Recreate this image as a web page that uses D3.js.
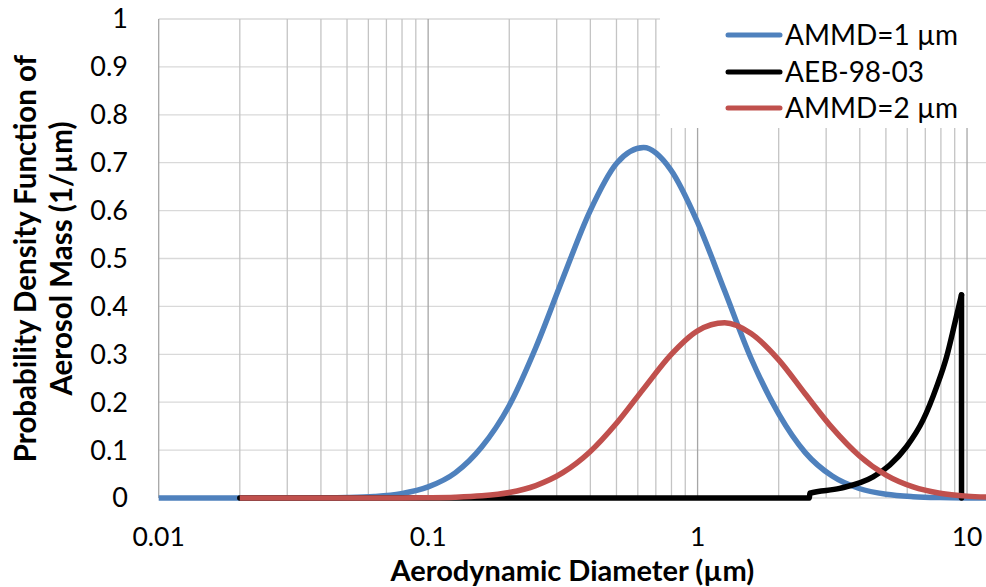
<!DOCTYPE html>
<html>
<head>
<meta charset="utf-8">
<script src="https://cdn.jsdelivr.net/npm/d3@7"></script>
<style>
  html, body { margin: 0; padding: 0; background: #fff; }
  svg { display: block; }
  text { font-family: Lato, "Open Sans", sans-serif; fill: #000; }
</style>
</head>
<body>
<svg id="chart" width="986" height="587"></svg>
<script>
// ---------- DATA ----------
const diameters = [0.01, 0.0126, 0.0158, 0.02, 0.0251, 0.0316, 0.0398, 0.0501, 0.0631, 0.0794,
  0.1, 0.126, 0.158, 0.2, 0.251, 0.316, 0.398, 0.501, 0.631, 0.794,
  1, 1.26, 1.58, 2, 2.51, 3.16, 3.98, 5.01, 6.31, 7.94, 10, 11.76];
const ammd1Values = [0, 0, 0, 0, 0, 0.0001, 0.0003, 0.001, 0.0032, 0.0091,
  0.0231, 0.0524, 0.1063, 0.1931, 0.3143, 0.4582, 0.598, 0.6989, 0.7315, 0.6857,
  0.5756, 0.4326, 0.2912, 0.1756, 0.0948, 0.0458, 0.0198, 0.0077, 0.0027, 0.0008, 0.0002, 0.0001];
const ammd2Values = [null, null, null, 0, 0, 0, 0, 0, 0, 0.0001,
  0.0005, 0.0016, 0.0045, 0.0115, 0.026, 0.0528, 0.096, 0.1565, 0.2284, 0.2984,
  0.3491, 0.3658, 0.3433, 0.2885, 0.2171, 0.1463, 0.0883, 0.0477, 0.0231, 0.01, 0.0039, 0.0019];
const aebDiameters = [0.02, 2.6, 2.61, 3.37, 4.48, 5.17, 5.96, 6.87, 7.71, 8.40, 9.01, 9.54];
const aebValues    = [0,    0,   0.01, 0.02, 0.044, 0.069, 0.107, 0.163, 0.232, 0.295, 0.365, 0.424];
const aebCutoffDiameter = 9.54;

const seriesNames = ["AMMD=1 µm", "AEB-98-03", "AMMD=2 µm"];
const seriesColors = ["#4F81BD", "#000000", "#C0504D"];

const xTickValues = [0.01, 0.1, 1, 10];
const xTickLabels = ["0.01", "0.1", "1", "10"];
const yTickValues = [0, 0.1, 0.2, 0.3, 0.4, 0.5, 0.6, 0.7, 0.8, 0.9, 1];
const yTickLabels = ["0", "0.1", "0.2", "0.3", "0.4", "0.5", "0.6", "0.7", "0.8", "0.9", "1"];
const xTitle = "Aerodynamic Diameter (µm)";
const yTitleLines = ["Probability Density Function of", "Aerosol Mass (1/µm)"];

// ---------- LAYOUT ----------
const svg = d3.select("#chart");
const plot = { left: 158.7, right: 986, top: 19, bottom: 498 };
const x = d3.scaleLog().domain([0.01, 11.76]).range([plot.left, plot.right]);
const y = d3.scaleLinear().domain([0, 1]).range([plot.bottom, plot.top]);

// gridlines
const minorX = [];
[0.01, 0.1, 1].forEach(dec => { for (let k = 2; k <= 9; k++) minorX.push(+(k * dec).toPrecision(3)); });

const grid = svg.append("g");
grid.selectAll(".hgrid").data(yTickValues).enter().append("line")
  .attr("x1", plot.left).attr("x2", plot.right)
  .attr("y1", d => y(d)).attr("y2", d => y(d))
  .attr("stroke", "#d9d9d9").attr("stroke-width", 1.3);
grid.selectAll(".vminor").data(minorX).enter().append("line")
  .attr("x1", d => x(d)).attr("x2", d => x(d))
  .attr("y1", plot.top).attr("y2", plot.bottom)
  .attr("stroke", "#c4c4c4").attr("stroke-width", 1.3);
grid.selectAll(".vmajor").data(xTickValues).enter().append("line")
  .attr("x1", d => x(d)).attr("x2", d => x(d))
  .attr("y1", plot.top).attr("y2", plot.bottom)
  .attr("stroke", "#a6a6a6").attr("stroke-width", 1.3);

// tick labels
svg.append("g").selectAll("text").data(yTickValues).enter().append("text")
  .attr("x", 128).attr("y", d => y(d)).attr("dy", "0.35em")
  .attr("text-anchor", "end").attr("font-size", 27)
  .text((d, i) => yTickLabels[i]);
svg.append("g").selectAll("text").data(xTickValues).enter().append("text")
  .attr("x", d => x(d)).attr("y", 546)
  .attr("text-anchor", "middle").attr("font-size", 26.5)
  .text((d, i) => xTickLabels[i]);

// axis titles
svg.append("text").attr("x", (plot.left + plot.right) / 2).attr("y", 581)
  .attr("text-anchor", "middle").attr("font-size", 29).attr("font-weight", "bold")
  .text(xTitle);
const yT = svg.append("text").attr("transform", `translate(0, ${(plot.top + plot.bottom) / 2}) rotate(-90)`)
  .attr("text-anchor", "middle").attr("font-size", 29.5).attr("font-weight", "bold");
yT.append("tspan").attr("x", 0).attr("y", 36).text(yTitleLines[0]);
yT.append("tspan").attr("x", 0).attr("y", 72).text(yTitleLines[1]);

// lines
const lineGen = d3.line().defined(d => d[1] != null)
  .x(d => x(d[0])).y(d => y(d[1])).curve(d3.curveMonotoneX);
const linGen = d3.line().x(d => x(d[0])).y(d => y(d[1]));

const series = svg.append("g").attr("fill", "none").attr("stroke-width", 5.5)
  .attr("stroke-linejoin", "round").attr("stroke-linecap", "round");

series.append("path")
  .attr("d", lineGen(diameters.map((d, i) => [d, ammd1Values[i]])))
  .attr("stroke", seriesColors[0]).attr("stroke-linecap", "butt");

const aebPts = aebDiameters.map((d, i) => [d, aebValues[i]]);
series.append("path").attr("d", lineGen(aebPts)).attr("stroke", seriesColors[1]);
series.append("path")
  .attr("d", linGen([[aebCutoffDiameter, aebValues[aebValues.length - 1]], [aebCutoffDiameter, 0]]))
  .attr("stroke", seriesColors[1]);

series.append("path")
  .attr("d", lineGen(diameters.map((d, i) => [d, ammd2Values[i]])))
  .attr("stroke", seriesColors[2]).attr("stroke-linecap", "butt");

// legend
const legend = svg.append("g");
legend.append("rect").attr("x", 660).attr("y", 0).attr("width", 326).attr("height", 128).attr("fill", "#fff");
const legendRowsY = [35, 72, 108];
seriesNames.forEach((name, i) => {
  legend.append("line").attr("x1", 728).attr("x2", 780)
    .attr("y1", legendRowsY[i]).attr("y2", legendRowsY[i])
    .attr("stroke", seriesColors[i]).attr("stroke-width", 5).attr("stroke-linecap", "round");
  legend.append("text").attr("x", 785).attr("y", legendRowsY[i]).attr("dy", "0.35em")
    .attr("font-size", 28).text(name);
});
</script>
</body>
</html>
